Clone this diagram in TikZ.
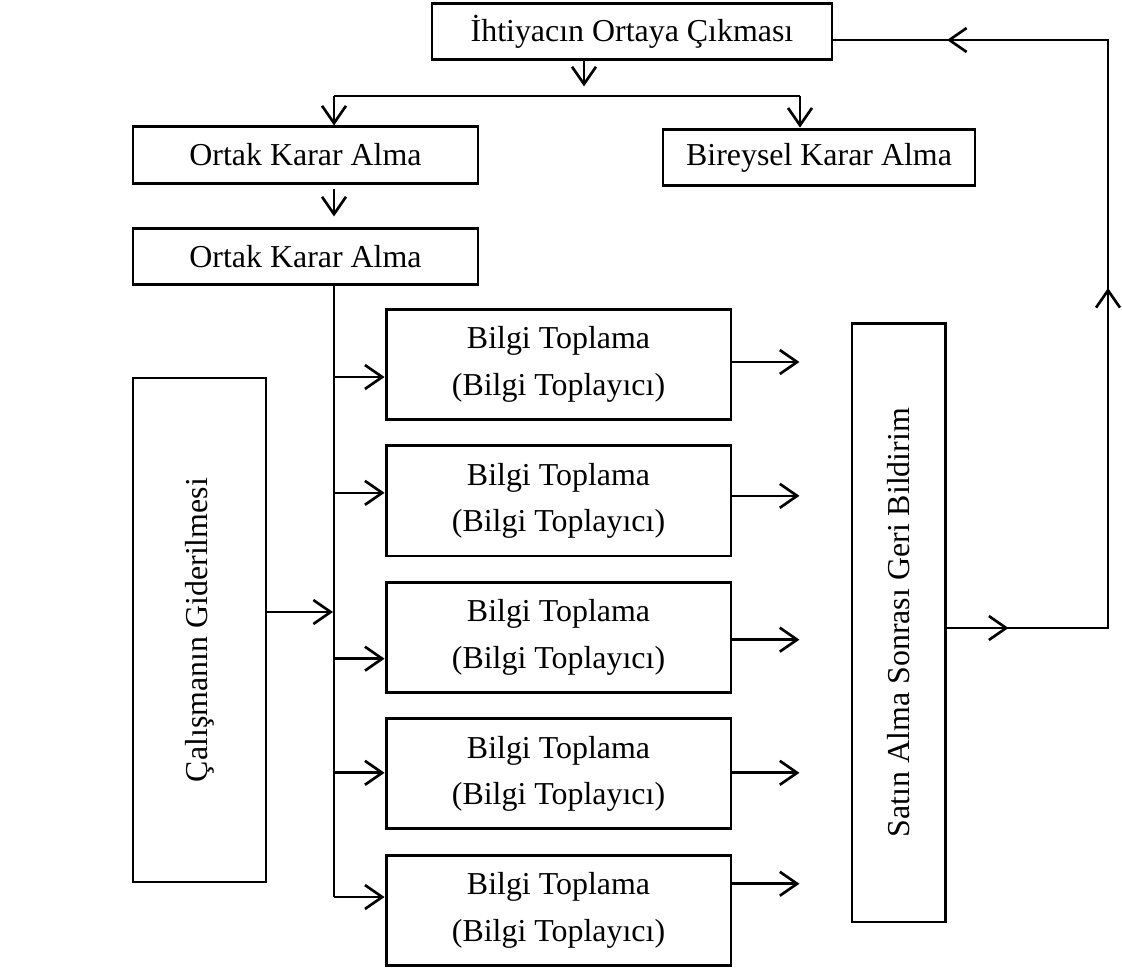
\documentclass[tikz,border=0pt]{standalone}
\usepackage{fontspec}
\setmainfont{Liberation Serif}
\usetikzlibrary{positioning,calc,arrows.meta}

\begin{document}
\begin{tikzpicture}[x=0.376pt, y=-0.376pt, node distance = 8.8pt, >={Straight Barb[length=6.5pt,width=9pt]}]
    \tikzstyle{box} = [draw=black, line width=1.1pt, inner sep=0pt, align=center, font=\fontsize{12}{17.5}\selectfont];
    \tikzstyle{info} = [box, minimum width=129.7pt, minimum height=41.4pt];
    \tikzstyle{line} = [draw=black, line width=0.5pt];
    \tikzstyle{arr} = [->, line width=1pt];
    \useasboundingbox (0,0) rectangle (1122,967);

    \node [box, minimum width=150.4pt, minimum height=21.4pt] (need) at (632,31.5) {İhtiyacın Ortaya Çıkması};
    \node [box, minimum width=129.7pt, minimum height=21.1pt] (joint1) at (305.5,155) {Ortak Karar Alma};
    \node [box, minimum width=117.3pt, minimum height=21.4pt] (single) at (819,157.5) {Bireysel Karar Alma};
    \node [box, minimum width=129.7pt, minimum height=21.1pt, below = 16pt of joint1] (joint2) {Ortak Karar Alma};

    \node [box, rotate=90, minimum width=189.5pt, minimum height=50pt] (fix) at (199.5,630) {Çalışmanın Giderilmesi};
    \node [box, rotate=90, minimum width=225.2pt, minimum height=35pt] (feedback) at (898.5,622.5) {Satın Alma Sonrası Geri Bildirim};

    \node [info] (info1) at (558.5,364.5) {Bilgi Toplama\\(Bilgi Toplayıcı)};
    \node [info, below = of info1] (info2) {Bilgi Toplama\\(Bilgi Toplayıcı)};
    \node [info, below = of info2] (info3) {Bilgi Toplama\\(Bilgi Toplayıcı)};
    \node [info, below = of info3] (info4) {Bilgi Toplama\\(Bilgi Toplayıcı)};
    \node [info, below = of info4] (info5) {Bilgi Toplama\\(Bilgi Toplayıcı)};

    % split under the first box
    \coordinate (split) at (584,96);
    \coordinate (lft) at (334,96);
    \coordinate (rgt) at (800,96);
    \draw [arr] (need.south -| split) -- ++(0,25);
    \draw [line] (lft) -- (rgt);
    \draw [arr] (lft) -- (lft |- joint1.north);
    \draw [arr] (rgt) -- (rgt |- single.north);
    \draw [arr, shorten <=1.5pt, shorten >=4pt] (joint1.south -| lft) -- (joint2.north -| lft);

    % bus to the info boxes
    \coordinate (busend) at (334,897);
    \draw [line] (joint2.south -| lft) -- (busend);
    \draw [arr] (busend) -- (busend -| info5.west);
    \foreach \b/\yout in {info1/-2.5, info2/-5.1, info3/2.3, info4/-1, info5/-26.5} {
        \path ($(\b.east)+(0,\yout)$) coordinate (pout);
        \draw [arr] (pout) -- ++(67,0);
    }
    \foreach \b/\yin in {info1/12.5, info2/-8.1, info3/21.3, info4/-1} {
        \path ($(\b.west)+(0,\yin)$) coordinate (pin);
        \draw [arr] (pin -| lft) -- (pin);
    }
    \coordinate (fixin) at (333,612);
    \draw [arr] (fix.south |- fixin) -- (fixin);

    % feedback loop
    \coordinate (loopB) at (1108,628);
    \coordinate (loopT) at (1108,40);
    \draw [line] (feedback.south |- loopB) -- (loopB) -- (loopT) -- (need.east |- loopT);
    \draw [arr] (feedback.south |- loopB) -- ++(62,0);
    \draw [arr] (loopB) ++(0,-295) -- ++(0,-45);
    \draw [arr] (loopT) ++(-118,0) -- ++(-43,0);
\end{tikzpicture}
\end{document}
